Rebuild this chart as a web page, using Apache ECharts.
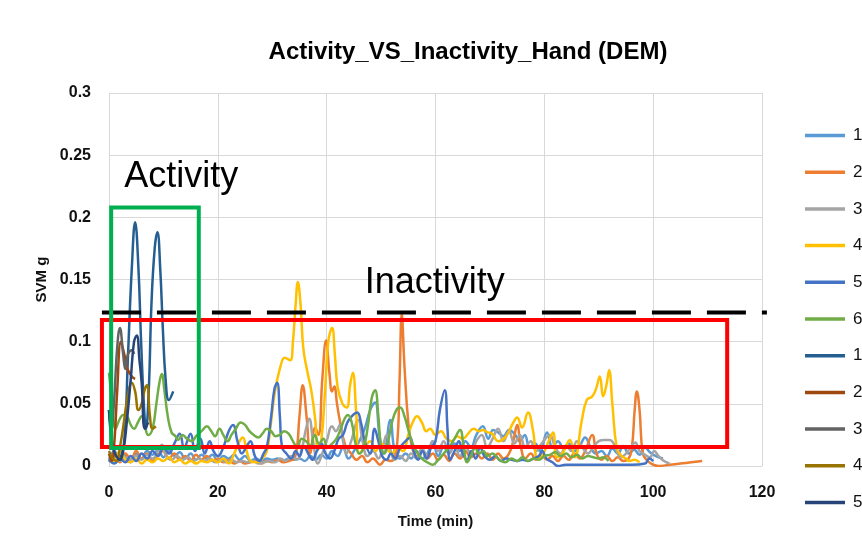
<!DOCTYPE html>
<html>
<head>
<meta charset="utf-8">
<script src="https://cdn.jsdelivr.net/npm/echarts@6/dist/echarts.min.js"></script>
<style>
html,body{margin:0;padding:0;background:#fff;}
#chart{width:862px;height:559px;}
</style>
</head>
<body>
<div id="chart"></div>
<script>
// ---------- data (time in min, SVM in g) ----------
const seriesNames = ["1","2","3","4","5","6","1 ","2 ","3 ","4 ","5 "];
const seriesColors = ["#5B9BD5","#ED7D31","#A5A5A5","#FFC000","#4472C4","#70AD47","#255E91","#9E480E","#636363","#997300","#264478"];

const inact1 = [[0,0.005],[1,0.012],[2,0.004],[3,0.008],[4,0.003],[5,0.01],[6,0.006],[7,0.012],[8,0.009],[9,0.013],[10,0.007],[11,0.012],[12,0.008],[13,0.011],[14,0.006],[15,0.01],[16,0.005],[17,0.009],[18,0.006],[19,0.009],[20,0.004],[21,0.008],[22,0.006],[23,0.009],[24,0.005],[25,0.008],[26,0.004],[27,0.006],[28,0.004],[29,0.006],[30,0.005],[31,0.006],[32,0.004],[33,0.006],[34,0.005],[35,0.006],[36,0.004],[37,0.008],[38,0.005],[39,0.009],[40,0.006],[41,0.012],[42,0.008],[43,0.015],[44,0.006],[45,0.012],[46,0.02],[47,0.03],[48,0.045],[48.9,0.051],[49.7,0.025],[50.5,0.01],[51.7,0.037],[52.5,0.012],[53.5,0.006],[54.5,0.01],[55.5,0.006],[56.5,0.012],[57.5,0.006],[58.5,0.01],[59.5,0.02],[60.5,0.008],[61.5,0.015],[62.5,0.01],[63.5,0.018],[64.5,0.012],[65.5,0.02],[66.5,0.015],[67.5,0.025],[68.7,0.032],[69.7,0.022],[70.6,0.029],[71.5,0.027],[72.5,0.024],[73.5,0.029],[74.5,0.026],[75.5,0.02],[76.4,0.025],[77.3,0.015],[78.3,0.018],[79.2,0.012],[80.5,0.027],[81.5,0.015],[82.5,0.02],[83.5,0.015],[84.5,0.018],[85.5,0.012],[86.5,0.016],[87.5,0.023],[88.5,0.015],[89.5,0.01],[90.5,0.012],[91.5,0.008],[92.5,0.014],[93.5,0.01],[94.5,0.016],[95.5,0.01],[96.5,0.013],[97.5,0.009],[98.5,0.015],[99.4,0.011],[100.5,0.008],[101.8,0.006]];

const inact2 = [[0,0.004],[1,0.008],[2,0.003],[3,0.01],[4,0.005],[5,0.012],[6,0.006],[7,0.01],[8,0.004],[9,0.009],[10,0.012],[11,0.006],[12,0.01],[13,0.005],[14,0.008],[15,0.004],[16,0.009],[17,0.005],[18,0.008],[19,0.004],[20,0.006],[21,0.003],[22,0.005],[23,0.002],[24,0.004],[25,0.002],[26,0.003],[27,0.004],[28,0.002],[29,0.004],[30,0.003],[31,0.005],[32,0.003],[33,0.004],[34.2,0.007],[35,0.04],[35.6,0.065],[36.3,0.04],[37,0.01],[37.9,0.031],[38.5,0.025],[39.2,0.07],[39.9,0.101],[40.5,0.075],[41,0.06],[41.4,0.064],[41.9,0.05],[42.4,0.037],[43.4,0.017],[44.5,0.01],[45.5,0.005],[46.5,0.008],[47.5,0.003],[48.5,0.006],[49.8,0.001],[50.8,0.005],[51.8,0.004],[52.9,0.015],[53.4,0.07],[53.8,0.122],[54.3,0.08],[55,0.035],[55.7,0.015],[56.5,0.008],[57.5,0.012],[58.5,0.006],[59.5,0.01],[60.5,0.005],[61.5,0.009],[62.5,0.004],[63.5,0.01],[64.5,0.006],[65.5,0.012],[66.5,0.007],[67.5,0.01],[68.5,0.006],[69.5,0.01],[70.5,0.005],[71.5,0.01],[72.5,0.006],[73.5,0.01],[74.3,0.02],[75,0.033],[75.7,0.015],[76.5,0.006],[77.5,0.01],[78.5,0.005],[79.5,0.009],[80.5,0.005],[81.5,0.008],[82.5,0.004],[83.5,0.008],[84.5,0.005],[85.5,0.01],[86.5,0.006],[87.5,0.012],[88.8,0.025],[89.6,0.01],[90.5,0.005],[91.5,0.008],[92.5,0.004],[93.5,0.007],[94.5,0.004],[95.5,0.006],[96.1,0.015],[96.6,0.045],[97,0.06],[97.5,0.045],[98.1,0.01],[99,0.004],[100,0.001],[101,0.0],[103,0.001],[105,0.002],[107,0.003],[109,0.004]];

const inact3 = [[0,0.003],[1,0.006],[2,0.004],[3,0.007],[4,0.005],[5,0.008],[6,0.005],[7,0.009],[8,0.006],[9,0.012],[9.7,0.017],[10.5,0.008],[11.5,0.005],[12.5,0.008],[13.5,0.005],[14.5,0.007],[15.5,0.004],[16.5,0.006],[17.5,0.004],[18.5,0.006],[19.5,0.003],[20.5,0.005],[21.5,0.003],[22.5,0.005],[23.5,0.003],[24.5,0.004],[25.5,0.003],[26.5,0.004],[27.5,0.002],[28.5,0.003],[29.5,0.004],[30.5,0.003],[31.5,0.006],[32.5,0.004],[33.5,0.008],[34.5,0.005],[35.5,0.015],[36.2,0.03],[36.8,0.038],[37.5,0.02],[38.4,0.002],[39.2,0.01],[40,0.02],[41,0.032],[41.7,0.028],[42.4,0.033],[43,0.02],[43.6,0.01],[44.5,0.02],[45.8,0.037],[46.6,0.02],[47.5,0.008],[48.5,0.012],[49.5,0.006],[50.3,0.015],[51,0.025],[51.8,0.012],[52.5,0.005],[53.5,0.008],[54.5,0.004],[55.5,0.01],[56.5,0.006],[57.5,0.014],[58.5,0.008],[59.5,0.02],[60.5,0.012],[61.5,0.02],[62.5,0.01],[63.5,0.016],[64.5,0.008],[65.5,0.015],[66.5,0.01],[67.5,0.02],[68.5,0.025],[69.5,0.015],[70.5,0.022],[71.5,0.03],[72.5,0.02],[73.5,0.028],[74.5,0.018],[75.5,0.025],[76.5,0.015],[77.5,0.02],[78.5,0.012],[79.5,0.018],[81,0.025],[82,0.015],[83,0.01],[84,0.016],[85,0.012],[86,0.02],[87,0.015],[88,0.01],[89,0.015],[90,0.02],[91,0.021],[92,0.021],[93,0.016],[94,0.007],[95,0.01],[96,0.016],[96.7,0.019],[97.5,0.012],[98.5,0.009],[99.4,0.007],[100.2,0.012],[101,0.008],[102,0.004],[103,0.002]];

const inact4 = [[0,0.01],[1,0.004],[2,0.012],[3,0.005],[4,0.003],[5,0.006],[6,0.002],[7,0.005],[8,0.003],[9,0.006],[10,0.004],[11,0.007],[12,0.003],[13,0.005],[14,0.002],[15,0.004],[16,0.002],[17,0.004],[18,0.003],[19,0.005],[20,0.003],[21,0.006],[22,0.002],[23,0.01],[24,0.02],[24.6,0.023],[25.3,0.012],[26,0.004],[27,0.003],[28,0.005],[29,0.012],[29.6,0.029],[30.5,0.06],[31.5,0.08],[32.3,0.087],[33.3,0.085],[33.8,0.1],[34.3,0.13],[34.7,0.148],[35.2,0.13],[35.7,0.095],[36.4,0.077],[37.2,0.06],[37.9,0.037],[38.4,0.013],[39,0.02],[39.7,0.06],[40.3,0.1],[41,0.111],[41.5,0.09],[42,0.064],[42.9,0.05],[43.7,0.047],[44.3,0.065],[44.8,0.075],[45.4,0.045],[46,0.01],[47,0.015],[48,0.02],[49,0.012],[50,0.018],[51,0.014],[52,0.01],[53,0.015],[54,0.012],[55,0.025],[55.8,0.035],[56.6,0.04],[57.5,0.035],[58.3,0.028],[59,0.03],[60,0.025],[61,0.028],[62,0.022],[63,0.02],[64,0.024],[65,0.022],[66,0.026],[67,0.03],[68,0.028],[68.7,0.029],[69.6,0.027],[70.4,0.026],[71.5,0.02],[72.8,0.023],[74.3,0.035],[75,0.039],[75.9,0.031],[77,0.043],[77.9,0.029],[78.8,0.006],[79.8,0.01],[80.8,0.02],[81.6,0.027],[82.3,0.007],[83.3,0.01],[84.7,0.021],[85.6,0.007],[86.9,0.037],[87.8,0.053],[88.8,0.056],[89.5,0.062],[90.2,0.072],[90.8,0.056],[91.4,0.065],[91.9,0.077],[92.5,0.05],[93.3,0.015],[94.2,0.008],[95,0.006],[95.7,0.004],[96.5,0.005],[97.5,0.003]];

const inact5 = [[0,0.005],[1,0.002],[2,0.006],[3,0.003],[4,0.008],[5,0.004],[6,0.01],[7,0.006],[8,0.012],[9,0.008],[10,0.015],[11,0.01],[12,0.018],[13,0.026],[13.8,0.015],[15,0.026],[15.8,0.012],[16.8,0.022],[17.6,0.01],[18.5,0.02],[19.2,0.012],[20,0.008],[21,0.015],[22,0.028],[22.8,0.033],[23.6,0.02],[24.4,0.01],[25.2,0.015],[26,0.02],[26.8,0.008],[27.6,0.004],[28.4,0.01],[29,0.015],[29.8,0.04],[30.4,0.062],[30.9,0.067],[31.4,0.04],[31.8,0.015],[32.6,0.01],[33.5,0.006],[34.3,0.012],[35,0.008],[35.8,0.016],[36.6,0.01],[37.4,0.005],[38.2,0.012],[39,0.018],[39.8,0.01],[40.6,0.006],[41.4,0.012],[42.2,0.022],[43,0.025],[43.8,0.035],[44.6,0.04],[45.6,0.043],[46.3,0.035],[47,0.02],[48,0.01],[48.8,0.03],[49.5,0.02],[50.2,0.008],[51,0.005],[51.8,0.01],[52.6,0.006],[53.5,0.015],[54.5,0.02],[55.3,0.023],[56,0.012],[56.8,0.005],[57.6,0.012],[58.4,0.006],[59.2,0.015],[60,0.02],[60.8,0.045],[61.7,0.061],[62.2,0.03],[62.7,0.005],[63.5,0.012],[64.3,0.02],[65,0.01],[65.8,0.005],[66.6,0.012],[67.4,0.006],[68.2,0.015],[69,0.008],[70,0.005],[71,0.008],[72,0.004],[73,0.006],[74,0.005],[75,0.004],[76,0.005],[77,0.004],[78,0.006],[79,0.008],[79.6,0.012],[80.4,0.006],[81.5,0.003],[82.5,0.0],[84,0.001],[86,0.001],[88,0.001],[90,0.001],[92,0.001],[94,0.001],[96,0.001],[98.5,0.002],[99.3,0.006],[100,0.004]];

const inact6 = [[0,0.075],[0.6,0.05],[1.2,0.03],[2,0.038],[2.6,0.041],[3.3,0.04],[4,0.033],[4.6,0.03],[5.3,0.035],[6,0.04],[6.6,0.032],[7.2,0.025],[8,0.03],[8.7,0.05],[9.3,0.068],[9.7,0.074],[10.2,0.06],[10.8,0.04],[11.5,0.027],[12.2,0.024],[12.7,0.021],[13.5,0.025],[14.3,0.022],[15.2,0.02],[16,0.024],[17,0.028],[18,0.032],[18.8,0.028],[19.5,0.024],[20.3,0.03],[21,0.025],[21.8,0.02],[22.5,0.025],[23.3,0.03],[24.2,0.035],[25,0.033],[25.8,0.028],[26.6,0.025],[27.4,0.023],[28.2,0.026],[29,0.03],[29.8,0.028],[30.6,0.024],[31.4,0.025],[32.2,0.028],[33,0.026],[33.8,0.02],[34.6,0.015],[35.4,0.022],[36.2,0.02],[37,0.016],[37.8,0.025],[38.6,0.018],[39.4,0.022],[40.2,0.015],[41,0.018],[41.8,0.022],[42.6,0.03],[43.3,0.038],[43.9,0.041],[44.6,0.035],[45.3,0.018],[46,0.01],[46.8,0.015],[47.5,0.03],[48.3,0.055],[48.9,0.061],[49.5,0.04],[50,0.015],[50.6,0.01],[51.3,0.02],[52,0.035],[52.8,0.045],[53.5,0.047],[54.3,0.04],[55,0.029],[55.8,0.018],[56.6,0.011],[57.5,0.006],[58.5,0.003],[59.5,0.001],[60.5,0.005],[61.5,0.01],[62.5,0.015],[63.5,0.022],[64.5,0.029],[65.2,0.015],[65.8,0.003],[66.5,0.008],[67.3,0.015],[68,0.01],[68.8,0.012],[69.5,0.008],[70.5,0.01],[71.5,0.006],[72.8,0.003],[74,0.006],[75,0.004],[76,0.007],[77,0.004],[78,0.006],[79,0.005],[80,0.008],[81,0.009],[82,0.011],[83,0.008],[84,0.01],[85,0.007],[86,0.009],[87,0.006],[88,0.008],[89,0.007],[90,0.006],[90.8,0.007],[91.8,0.004]];

const act1 = [[2,0.005],[2.8,0.02],[3.5,0.09],[4.2,0.16],[4.8,0.196],[5.4,0.16],[5.9,0.1],[6.4,0.05],[6.8,0.03],[7.3,0.06],[7.8,0.13],[8.4,0.175],[8.9,0.188],[9.4,0.16],[9.9,0.11],[10.4,0.07],[11,0.053],[11.8,0.06]];
const act2 = [[0,0.01],[0.5,0.004],[1,0.02],[1.5,0.06],[2.2,0.1],[2.8,0.09],[3.4,0.078],[4.2,0.072],[4.8,0.07]];
const act3 = [[0,0.045],[0.4,0.03],[0.9,0.05],[1.5,0.095],[2,0.111],[2.6,0.09],[3,0.078],[3.5,0.09],[4.2,0.093],[4.6,0.09]];
const act4 = [[0,0.012],[0.7,0.006],[1.4,0.004],[2,0.015],[2.6,0.031],[3.4,0.055],[4.2,0.067],[4.8,0.06],[5.4,0.045],[6,0.05],[6.6,0.062],[7,0.065],[7.5,0.041],[8,0.03],[8.6,0.032]];
const act5 = [[0,0.045],[0.5,0.02],[1.1,0.01],[2,0.005],[2.6,0.012],[3.2,0.032],[4,0.07],[4.6,0.1],[5.1,0.105],[5.6,0.085],[6,0.067],[6.6,0.03],[7.2,0.035]];

const allData = [inact1, inact2, inact3, inact4, inact5, inact6, act1, act2, act3, act4, act5];

// annotation positions in data coordinates
const inactivityBox = [[-1.3, 0.1175], [113.6, 0.0153]];
const activityBox = [[0.4, 0.208], [16.5, 0.0145]];
const thresholdLine = [[-1.3, 0.1235], [120.9, 0.1235]];
const activityLabel = {text: "Activity", at: [2.8, 0.2325]};
const inactivityLabel = {text: "Inactivity", at: [47, 0.147]};

const xTicks = {min: 0, max: 120, interval: 20};
const yTicks = {min: 0, max: 0.3, interval: 0.05};

// ---------- chart ----------
const chart = echarts.init(document.getElementById('chart'), null, {renderer: 'canvas'});
const boldAxis = {fontFamily: 'Liberation Sans, Arial, sans-serif', fontWeight: 'bold', fontSize: 16, color: '#111'};

chart.setOption({
  animation: false,
  backgroundColor: '#ffffff',
  title: {
    text: 'Activity_VS_Inactivity_Hand (DEM)',
    left: 463, top: 35, textAlign: 'center',
    textStyle: {fontFamily: 'Liberation Sans, Arial, sans-serif', fontWeight: 'bold', fontSize: 24, color: '#000'}
  },
  legend: {
    orient: 'vertical', left: 805, top: 127, padding: 0,
    icon: 'rect', itemWidth: 40, itemHeight: 3.5, itemGap: 20.8 - 1.1,
    textStyle: {fontFamily: 'Liberation Sans, Arial, sans-serif', fontSize: 17, lineHeight: 16, color: '#111', padding: [0, 0, 0, 3]},
    data: seriesNames
  },
  grid: {left: 109, right: 100, top: 93, bottom: 93, containLabel: false},
  xAxis: {
    type: 'value', min: xTicks.min, max: xTicks.max, interval: xTicks.interval,
    name: 'Time (min)', nameLocation: 'middle', nameGap: 48,
    nameTextStyle: Object.assign({}, boldAxis, {fontSize: 15}),
    axisLine: {show: true, lineStyle: {color: '#d9d9d9', width: 1}},
    axisTick: {show: false},
    axisLabel: Object.assign({margin: 19}, boldAxis),
    splitLine: {show: true, lineStyle: {color: '#d9d9d9', width: 1}}
  },
  yAxis: {
    type: 'value', min: yTicks.min, max: yTicks.max, interval: yTicks.interval,
    name: 'SVM g', nameLocation: 'middle', nameGap: 52,
    nameTextStyle: Object.assign({}, boldAxis, {fontSize: 15}),
    axisLine: {show: false},
    axisTick: {show: false},
    axisLabel: Object.assign({margin: 18, formatter: v => String(+v.toFixed(2))}, boldAxis),
    splitLine: {show: true, lineStyle: {color: '#d9d9d9', width: 1}}
  },
  series: allData.map((d, i) => ({
    name: seriesNames[i],
    type: 'line',
    data: d,
    smooth: 0.45,
    symbol: 'none',
    color: seriesColors[i],
    lineStyle: {width: 2.5, color: seriesColors[i]},
    z: 2 + i
  }))
});

function px(p) { return chart.convertToPixel({gridIndex: 0}, p); }
function rectFrom(box, color) {
  const a = px(box[0]), b = px(box[1]);
  return {type: 'rect', z: 100, shape: {x: a[0], y: a[1], width: b[0] - a[0], height: b[1] - a[1]},
          style: {fill: 'none', stroke: color, lineWidth: 4}};
}
const l0 = px(thresholdLine[0]), l1 = px(thresholdLine[1]);
const t1 = px(activityLabel.at), t2 = px(inactivityLabel.at);
const labelStyle = {fontFamily: 'Liberation Sans, Arial, sans-serif', fontSize: 36, fill: '#000'};
chart.setOption({
  graphic: [
    {type: 'line', z: 100, shape: {x1: l0[0], y1: l0[1], x2: l1[0], y2: l1[1]},
     style: {stroke: '#000', lineWidth: 4, lineDash: [39, 16]}},
    rectFrom(inactivityBox, '#FF0000'),
    rectFrom(activityBox, '#00B050'),
    {type: 'text', z: 100, x: t1[0], y: t1[1], style: Object.assign({text: activityLabel.text, textVerticalAlign: 'middle', verticalAlign: 'middle'}, labelStyle)},
    {type: 'text', z: 100, x: t2[0], y: t2[1], style: Object.assign({text: inactivityLabel.text, textVerticalAlign: 'middle', verticalAlign: 'middle'}, labelStyle)}
  ]
});
</script>
</body>
</html>
